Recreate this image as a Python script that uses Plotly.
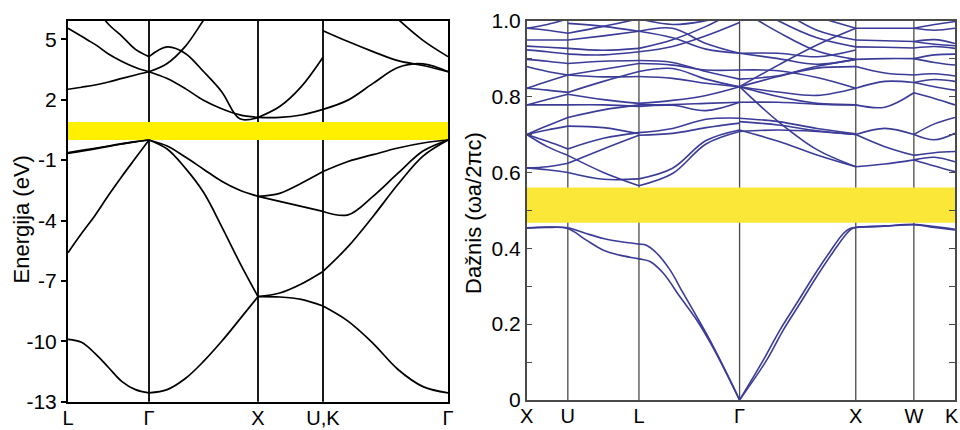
import plotly.graph_objects as go

FONT = "Liberation Sans, Arial, Helvetica, sans-serif"

# ---------------- Electronic band structure (left panel) ----------------
e_sym_pos = [0.0, 0.81, 1.90, 2.55, 3.80]
e_sym_labels = ["L", "Γ", "X", "U,K", "Γ"]
e_ticks = [5, 2, -1, -4, -7, -10, -13]
e_gap = [0.0, 0.89]

# L -> Γ
e_LG_k = [0.0, 0.135, 0.27, 0.405, 0.54, 0.675, 0.81]
e_LG_bands = [
    [-9.9, -10.05, -10.6, -11.3, -12.0, -12.4, -12.56],
    [-5.6, -4.65, -3.75, -2.75, -1.8, -0.9, 0.0],
    [-0.63, -0.52, -0.41, -0.3, -0.18, -0.08, 0.0],
    [-0.67, -0.56, -0.44, -0.32, -0.2, -0.09, 0.0],
    [2.52, 2.62, 2.73, 2.88, 3.06, 3.23, 3.39],
    [5.55, 5.15, 4.75, 4.27, 3.9, 3.6, 3.39],
    [8.5, 7.5, 6.6, 5.75, 5.15, 4.5, 4.14],
]
# Γ -> X
e_GX_k = [0.81, 0.9917, 1.1733, 1.355, 1.5367, 1.7183, 1.90]
e_GX_bands = [
    [-12.56, -12.4, -11.85, -11.0, -10.0, -8.9, -7.78],
    [0.0, -0.45, -1.4, -2.6, -4.3, -6.1, -7.78],
    [0.0, -0.3, -0.85, -1.45, -2.05, -2.5, -2.8],
    [3.39, 3.05, 2.55, 1.97, 1.55, 1.25, 1.12],
    [4.14, 4.62, 4.3, 3.4, 2.4, 1.05, 1.12],
    [3.39, 3.8, 4.65, 5.95, 7.3, 8.6, 9.9],
]
# X -> U
e_XU_k = [1.90, 2.117, 2.333, 2.55]
e_XU_bands = [
    [-7.78, -7.8, -7.92, -8.25],
    [-7.78, -7.6, -7.15, -6.53],
    [-2.8, -3.05, -3.3, -3.55],
    [-2.8, -2.65, -2.15, -1.57],
    [1.12, 1.12, 1.24, 1.52],
    [1.12, 1.66, 2.65, 4.11],
]
# K -> Γ
e_KG_k = [2.55, 2.80, 3.05, 3.30, 3.55, 3.80]
e_KG_bands = [
    [-8.25, -9.0, -10.1, -11.4, -12.25, -12.56],
    [-6.53, -5.3, -3.8, -2.2, -0.8, 0.0],
    [-3.55, -3.72, -2.8, -1.65, -0.55, 0.0],
    [-1.57, -1.07, -0.73, -0.4, -0.15, 0.0],
    [1.52, 1.98, 2.81, 3.6, 3.78, 3.39],
    [5.43, 4.89, 4.39, 3.94, 3.7, 3.39],
    [9.5, 8.4, 7.2, 6.0, 4.95, 4.14],
]

# ---------------- Photonic band structure (right panel) ----------------
p_sym_pos = [0.0, 0.354, 0.966, 1.832, 2.832, 3.332, 3.686]
p_sym_labels = ["X", "U", "L", "Γ", "X", "W", "K"]
p_ticks = [0.0, 0.1, 0.2, 0.3, 0.4, 0.5, 0.6, 0.7, 0.8, 0.9, 1.0]
p_ticktext = ["0", "", "0.2", "", "0.4", "", "0.6", "", "0.8", "", "1.0"]
p_gap = [0.467, 0.56]

# two lowest bands, X -> U -> L -> Γ
p_low1_k = [0.0, 0.177, 0.354, 0.51, 0.66, 0.80, 0.966, 1.02, 1.119, 1.233,
            1.348, 1.463, 1.606, 1.75, 1.832]
p_low1_f = [0.454, 0.456, 0.454, 0.439, 0.426, 0.418, 0.411, 0.409, 0.387, 0.343,
            0.281, 0.220, 0.141, 0.053, 0.0]
p_low2_k = [0.0, 0.177, 0.354, 0.51, 0.66, 0.80, 0.966, 1.061, 1.176, 1.319,
            1.463, 1.606, 1.832]
p_low2_f = [0.453, 0.455, 0.452, 0.422, 0.395, 0.382, 0.372, 0.365, 0.334, 0.272,
            0.211, 0.137, 0.0]
# two lowest bands, Γ -> X -> W -> K
p_low3_k = [1.832, 2.036, 2.180, 2.324, 2.466, 2.610, 2.725, 2.782, 2.832,
            3.082, 3.332, 3.509, 3.686]
p_low3_f = [0.0, 0.105, 0.185, 0.255, 0.325, 0.391, 0.439, 0.452, 0.455,
            0.459, 0.463, 0.457, 0.450]
p_low4_k = [1.832, 2.065, 2.209, 2.353, 2.495, 2.639, 2.754, 2.80, 2.832,
            3.082, 3.332, 3.509, 3.686]
p_low4_f = [0.0, 0.105, 0.185, 0.255, 0.325, 0.391, 0.439, 0.452, 0.455,
            0.458, 0.462, 0.455, 0.448]

# upper bands, segment by segment
p_XU_k = [0.0, 0.177, 0.354]
p_XU_bands = [
    [0.612, 0.615, 0.624], [0.612, 0.607, 0.600],
    [0.700, 0.668, 0.645], [0.700, 0.682, 0.662],
    [0.700, 0.712, 0.722], [0.700, 0.723, 0.745],
    [0.778, 0.778, 0.778], [0.778, 0.792, 0.806],
    [0.822, 0.817, 0.811], [0.822, 0.840, 0.857],
    [0.879, 0.866, 0.857], [0.898, 0.893, 0.887],
    [0.923, 0.918, 0.912], [0.933, 0.930, 0.927],
    [0.949, 0.949, 0.949], [0.980, 0.975, 0.967],
    [0.980, 0.990, 1.005],
]
p_UL_k = [0.354, 0.66, 0.966]
p_UL_bands = [
    [0.600, 0.582, 0.583], [0.645, 0.600, 0.565],
    [0.624, 0.662, 0.698], [0.662, 0.690, 0.705],
    [0.722, 0.718, 0.702], [0.745, 0.765, 0.778],
    [0.778, 0.778, 0.774], [0.806, 0.792, 0.782],
    [0.811, 0.840, 0.866], [0.857, 0.872, 0.887],
    [0.857, 0.852, 0.853], [0.887, 0.893, 0.895],
    [0.912, 0.910, 0.918], [0.927, 0.922, 0.927],
    [0.949, 0.960, 0.972], [0.993, 0.985, 0.972],
    [0.967, 0.985, 1.005],
]
p_LG_k = [0.966, 1.255, 1.543, 1.832]
p_LG_bands = [
    [0.583, 0.611, 0.684, 0.712], [0.565, 0.597, 0.675, 0.708],
    [0.705, 0.716, 0.740, 0.743], [0.698, 0.703, 0.718, 0.730],
    [0.774, 0.777, 0.763, 0.785], [0.778, 0.779, 0.782, 0.785],
    [0.782, 0.790, 0.803, 0.826], [0.853, 0.848, 0.835, 0.826],
    [0.866, 0.874, 0.846, 0.826], [0.887, 0.883, 0.870, 0.870],
    [0.895, 0.890, 0.866, 0.846], [0.918, 0.932, 0.960, 0.995],
    [0.927, 0.950, 0.985, 1.030], [0.972, 0.980, 0.940, 0.914],
    [0.972, 0.955, 0.925, 0.914], [1.005, 0.990, 1.000, 1.020],
]
p_GX_k = [1.832, 2.165, 2.498, 2.832]
p_GX_bands = [
    [0.712, 0.682, 0.646, 0.615], [0.826, 0.734, 0.660, 0.615],
    [0.743, 0.734, 0.716, 0.702], [0.734, 0.725, 0.710, 0.700],
    [0.708, 0.712, 0.708, 0.700], [0.785, 0.785, 0.780, 0.778],
    [0.826, 0.800, 0.782, 0.778], [0.826, 0.812, 0.803, 0.822],
    [0.826, 0.853, 0.875, 0.879], [0.826, 0.883, 0.936, 0.980],
    [0.870, 0.868, 0.850, 0.822], [0.846, 0.855, 0.880, 0.898],
    [0.914, 0.914, 0.905, 0.923], [0.914, 0.900, 0.885, 0.898],
    [1.030, 0.970, 0.920, 0.898], [1.060, 1.000, 0.955, 0.931],
    [1.080, 1.030, 0.975, 0.949], [1.050, 1.040, 1.010, 0.980],
]
p_XW_k = [2.832, 3.082, 3.332]
p_XW_bands = [
    [0.615, 0.622, 0.633], [0.700, 0.668, 0.645],
    [0.700, 0.716, 0.700], [0.778, 0.772, 0.810],
    [0.822, 0.840, 0.837], [0.879, 0.862, 0.857],
    [0.898, 0.900, 0.900], [0.931, 0.930, 0.928],
    [0.949, 0.947, 0.945], [0.980, 0.980, 0.980],
]
p_WK_k = [3.332, 3.509, 3.686]
p_WK_bands = [
    [0.633, 0.617, 0.602], [0.633, 0.640, 0.628],
    [0.645, 0.652, 0.655], [0.700, 0.686, 0.703],
    [0.700, 0.728, 0.745], [0.810, 0.795, 0.778],
    [0.837, 0.826, 0.817], [0.837, 0.845, 0.840],
    [0.857, 0.860, 0.854], [0.900, 0.890, 0.883],
    [0.900, 0.910, 0.912], [0.928, 0.932, 0.927],
    [0.945, 0.950, 0.940], [0.945, 0.938, 0.934],
    [0.980, 0.975, 0.980], [0.980, 0.990, 0.998],
]


def joined(pieces):
    """Concatenate (k, values) pieces into one gapped x/y pair."""
    xs, ys = [], []
    for k, vals in pieces:
        xs += list(k) + [None]
        ys += list(vals) + [None]
    return xs, ys


fig = go.Figure()

# left panel curves
e_pieces = []
for k, bands in [(e_LG_k, e_LG_bands), (e_GX_k, e_GX_bands),
                 (e_XU_k, e_XU_bands), (e_KG_k, e_KG_bands)]:
    e_pieces += [(k, b) for b in bands]
ex, ey = joined(e_pieces)
fig.add_trace(go.Scatter(
    x=ex, y=ey, mode="lines", xaxis="x", yaxis="y",
    line=dict(color="#000000", width=1.7, shape="spline", smoothing=1.0),
    hoverinfo="skip", showlegend=False))

# right panel curves
p_pieces = [(p_low1_k, p_low1_f), (p_low2_k, p_low2_f),
            (p_low3_k, p_low3_f), (p_low4_k, p_low4_f)]
for k, bands in [(p_XU_k, p_XU_bands), (p_UL_k, p_UL_bands),
                 (p_LG_k, p_LG_bands), (p_GX_k, p_GX_bands),
                 (p_XW_k, p_XW_bands), (p_WK_k, p_WK_bands)]:
    p_pieces += [(k, b) for b in bands]
px_, py_ = joined(p_pieces)
fig.add_trace(go.Scatter(
    x=px_, y=py_, mode="lines", xaxis="x2", yaxis="y2",
    line=dict(color="#3b3b98", width=1.6, shape="spline", smoothing=1.0),
    hoverinfo="skip", showlegend=False))

shapes = [
    dict(type="rect", xref="x", yref="y", x0=e_sym_pos[0], x1=e_sym_pos[-1],
         y0=e_gap[0], y1=e_gap[1], fillcolor="#fff000", line=dict(width=0),
         layer="below"),
    dict(type="rect", xref="x2", yref="y2", x0=p_sym_pos[0], x1=p_sym_pos[-1],
         y0=p_gap[0], y1=p_gap[1], fillcolor="#fbe737", line=dict(width=0),
         layer="below"),
]
for xv in e_sym_pos[1:-1]:
    shapes.append(dict(type="line", xref="x", yref="y domain", x0=xv, x1=xv,
                       y0=0, y1=1, line=dict(color="#000000", width=1.8),
                       layer="below"))
for xv in p_sym_pos[1:-1]:
    shapes.append(dict(type="line", xref="x2", yref="y2 domain", x0=xv, x1=xv,
                       y0=0, y1=1, line=dict(color="#4a4a4a", width=1.3),
                       layer="below"))

tick_font = dict(family=FONT, size=21, color="#000000")
x_tick_font = dict(family=FONT, size=20, color="#000000")

fig.update_layout(
    width=960, height=430, autosize=False,
    margin=dict(l=0, r=0, t=0, b=0),
    paper_bgcolor="#ffffff", plot_bgcolor="#ffffff",
    font=dict(family=FONT, color="#000000"),
    shapes=shapes,
    xaxis=dict(domain=[68 / 960, 448 / 960], range=[e_sym_pos[0], e_sym_pos[-1]],
               anchor="y", tickvals=e_sym_pos, ticktext=e_sym_labels,
               ticks="", ticklabelstandoff=-3,
               tickfont=x_tick_font, showgrid=False, zeroline=False, automargin=False,
               showline=True, linecolor="#000000", linewidth=2, mirror=True),
    yaxis=dict(domain=[(430 - 401.7) / 430, (430 - 21) / 430], range=[-13, 5.91],
               anchor="x", tickvals=e_ticks, ticktext=[str(t) for t in e_ticks],
               ticks="outside", ticklen=5, tickwidth=1.5, tickcolor="#000000",
               tickfont=tick_font, showgrid=False, zeroline=False, automargin=False,
               showline=True, linecolor="#000000", linewidth=2, mirror=True),
    # the last label (K) sits at the page edge, so it is placed as an
    # annotation anchored to the right instead of as a centred tick label
    xaxis2=dict(domain=[526.7 / 960, 955 / 960], range=[p_sym_pos[0], p_sym_pos[-1]],
                anchor="y2", tickvals=p_sym_pos[:-1], ticktext=p_sym_labels[:-1],
                ticks="", ticklabelstandoff=-3,
                tickfont=x_tick_font, showgrid=False, zeroline=False, automargin=False,
                showline=True, linecolor="#4a4a4a", linewidth=1.5, mirror=True),
    yaxis2=dict(domain=[(430 - 400) / 430, (430 - 20.7) / 430], range=[0, 1.0],
                anchor="x2", tickvals=p_ticks, ticktext=p_ticktext,
                ticks="inside", ticklen=6, tickwidth=1.3, tickcolor="#4a4a4a",
                tickfont=tick_font, showgrid=False, zeroline=False, automargin=False,
                showline=True, linecolor="#4a4a4a", linewidth=1.5, mirror="ticks"),
    annotations=[
        dict(text="Energija (eV)", xref="paper", yref="paper",
             x=20.5 / 960, y=1 - 220 / 430, xanchor="center", yanchor="middle",
             textangle=-90, showarrow=False,
             font=dict(family=FONT, size=22, color="#000000")),
        dict(text="Dažnis (ωa/2πc)", xref="paper", yref="paper",
             x=473 / 960, y=1 - 213 / 430, xanchor="center", yanchor="middle",
             textangle=-90, showarrow=False,
             font=dict(family=FONT, size=22, color="#000000")),
        dict(text=p_sym_labels[-1], xref="paper", yref="paper",
             x=1.0, y=0.0, xanchor="right", yanchor="bottom",
             showarrow=False, borderpad=0, yshift=2,
             font=dict(family=FONT, size=20, color="#000000")),
    ],
)

fig.write_html("out.html")
